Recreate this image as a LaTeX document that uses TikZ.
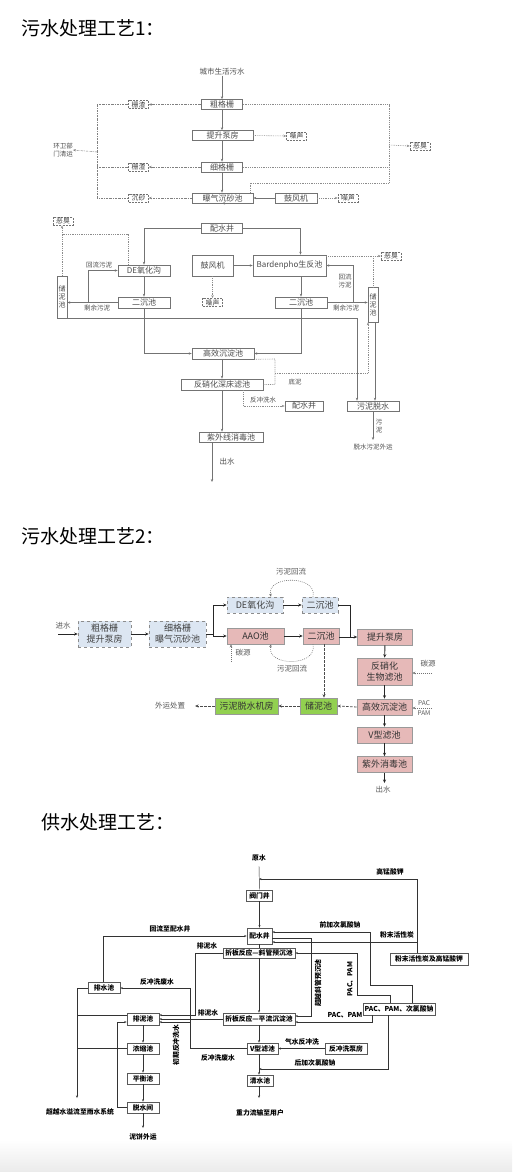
\documentclass[tikz,border=0pt]{standalone}
\usepackage{fontspec}
\newfontfamily\cjk{Noto Sans CJK SC}
\usetikzlibrary{arrows.meta}
\definecolor{lb}{HTML}{DCE6F2}
\definecolor{pk}{HTML}{E6B9B8}
\definecolor{gr}{HTML}{92D050}
\begin{document}
\begin{tikzpicture}[x=1pt,y=-1pt,font=\cjk,
 b1/.style={draw=black!55,line width=0.6pt,fill=white,inner sep=0pt,minimum height=10pt,text=black!70,font=\cjk\fontsize{8}{8.5}\selectfont},
 d1/.style={draw=black!55,dash pattern=on 2pt off 1.2pt,line width=0.5pt,inner sep=1pt,minimum height=8pt,minimum width=20pt,text=black!75,font=\cjk\fontsize{6.8}{7}\selectfont},
 t1/.style={text=black!70,font=\cjk\fontsize{6.5}{7.5}\selectfont,inner sep=0pt,align=center},
 a1/.style={draw=black!55,line width=0.5pt,-{Stealth[length=3pt,width=2.4pt]}},
 l1/.style={draw=black!55,line width=0.5pt},
 o1/.style={draw=black!45,line width=0.6pt,dash pattern=on 0.8pt off 1pt},
 dd1/.style={draw=black!50,line width=0.5pt,dash pattern=on 2pt off 1pt on 0.6pt off 1pt},
 ttl/.style={anchor=west,inner sep=0pt,font=\cjk\fontsize{19}{20}\selectfont},
 bb/.style={draw=black!45,dashed,fill=lb,line width=0.6pt,inner sep=0pt,minimum height=16pt,text=black!75,align=center,font=\cjk\fontsize{9}{11}\selectfont},
 bp/.style={draw=black!40,fill=pk,line width=0.6pt,inner sep=0pt,minimum height=16pt,text=black!80,align=center,font=\cjk\fontsize{9}{11}\selectfont},
 bg/.style={draw=black!40,fill=gr,line width=0.6pt,inner sep=0pt,minimum height=16pt,text=black!80,align=center,font=\cjk\fontsize{9}{11}\selectfont},
 t2/.style={text=black!65,inner sep=0pt,font=\cjk\fontsize{7.5}{8}\selectfont},
 a2/.style={draw=black!85,line width=0.9pt,-{Stealth[length=3.5pt,width=3pt]}},
 l2/.style={draw=black!85,line width=0.9pt},
 da2/.style={draw=black!70,line width=0.8pt,dash pattern=on 2.5pt off 1.5pt,-{Stealth[length=3.5pt,width=3pt]}},
 dt2/.style={draw=black!55,line width=0.6pt,dash pattern=on 0.8pt off 1.2pt,-{Stealth[length=3pt,width=2.6pt]}},
 b3/.style={draw=black!65,line width=0.6pt,fill=white,inner sep=1.2pt,minimum height=11pt,font=\cjk\bfseries\fontsize{6.8}{7}\selectfont},
 t3/.style={inner sep=0pt,font=\cjk\bfseries\fontsize{6.8}{7}\selectfont},
 a3/.style={draw=black!80,line width=0.45pt,-{Stealth[length=2.5pt,width=2pt]}},
 l3/.style={draw=black!80,line width=0.45pt}
]
\useasboundingbox (0,0) rectangle (512,1172);
\fill[top color=white,bottom color=black!8] (0,1140) rectangle (512,1172);

% ================= Section 1 =================
\node[ttl] (title1) at (21,28) {污水处理工艺1：};
\node[t1,font=\cjk\fontsize{7.5}{8}\selectfont] (src) at (222,72) {城市生活污水};
\node[b1,minimum width=41pt] (cgs) at (222,104.5) {粗格栅};
\node[b1,minimum width=61pt] (tsb) at (222.5,135.5) {提升泵房};
\node[b1,minimum width=41pt] (xgs) at (222,167) {细格栅};
\node[b1,minimum width=61pt] (bq) at (222.5,198) {曝气沉砂池};
\node[b1,minimum width=42pt] (gfj) at (296,198) {鼓风机};
\node[d1] (zz1) at (138.5,104.5) {栅渣};
\node[d1] (zz2) at (138.5,167) {栅渣};
\node[d1] (cs) at (138.5,198) {沉砂};
\node[d1] (zs1) at (296.5,136) {噪声};
\node[d1] (zs2) at (348,198) {噪声};
\node[d1] (ec1) at (420,146) {恶臭};
\node[t1] (hw) at (63,150) {环卫部\\门清运};
\coordinate (L1) at (97,104.5);
\coordinate (L2) at (97,167);
\coordinate (L3) at (97,198);
\coordinate (L4) at (97,152);
\coordinate (R1) at (389,104.5);
\coordinate (R2) at (389,183);
\coordinate (R3) at (389,145);
\coordinate (R4) at (250,183);

\draw[a1] (src) -- (cgs);
\draw[a1] (cgs) -- (cgs.south |- tsb.north);
\draw[a1] (cgs.south |- tsb.south) -- (xgs.north);
\draw[a1] (xgs) -- (xgs.south |- bq.north);
\draw[dd1,-{Stealth[length=3pt,width=2.4pt]}] (cgs.west) -- (zz1.east);
\draw[dd1,-{Stealth[length=3pt,width=2.4pt]}] (xgs.west) -- (zz2.east);
\draw[dd1,-{Stealth[length=3pt,width=2.4pt]}] (bq.west) -- (cs.east);
\draw[dd1] (zz1.west) -- (L1) -- (L3) -- (cs.west);
\draw[dd1] (zz2.west) -- (L2);
\draw[dd1,-{Stealth[length=3pt,width=2.4pt]}] (L4) -- (hw.east);
\draw[o1] (cgs.east) -- (R1) -- (R2) -- (R4) -- (R4 |- bq.north);
\draw[o1] (xgs.east) -- (xgs.east -| R1);
\draw[o1,-{Stealth[length=3pt,width=2.4pt]}] (R3) -- (ec1.west);
\draw[o1,-{Stealth[length=3pt,width=2.4pt]}] (tsb.east) -- (zs1.west);
\draw[a1] (gfj) -- (bq);
\draw[o1,-{Stealth[length=3pt,width=2.4pt]}] (gfj) -- (zs2);

\node[b1,minimum width=41pt] (psj) at (222,228.5) {配水井};
\node[b1,minimum width=52pt,minimum height=11pt] (de) at (144,270.5) {DE氧化沟};
\node[b1,minimum width=41pt,minimum height=21pt] (gf2) at (212.5,265.5) {鼓风机};
\node[b1,minimum width=73pt,minimum height=21pt] (bd) at (289.5,265.5) {Bardenpho生反池};
\node[d1] (zs3) at (212.5,302.5) {噪声};
\node[b1,minimum width=52pt,minimum height=11pt] (ecl) at (144,302.5) {二沉池};
\node[b1,minimum width=52pt,minimum height=11pt] (ecr) at (301,302.5) {二沉池};
\node[b1,minimum width=10pt,minimum height=42pt,align=center,font=\cjk\fontsize{7}{8}\selectfont] (cnl) at (62,297) {储\\泥\\池};
\node[b1,minimum width=10pt,minimum height=35pt,align=center,font=\cjk\fontsize{7}{8}\selectfont] (cnr) at (373,304.5) {储\\泥\\池};
\node[d1] (ec2) at (63,221) {恶臭};
\node[d1] (ec3) at (391,256) {恶臭};
\node[t1] (lb1) at (99,265) {回流污泥};
\node[t1] (lb2) at (97,308) {剩余污泥};
\node[t1] (lb3) at (345,281) {回流\\污泥};
\node[t1] (lb4) at (346,308) {剩余污泥};
\coordinate (H1) at (88,302.5);
\coordinate (H2) at (353,302.5);
\coordinate (H3) at (128,234);
\coordinate (H4) at (62,234);
\coordinate (H5) at (373,256);

\draw[a1] (bq) -- (bq.south -| psj.north);
\draw[a1] (psj.west) -| (de.north);
\draw[a1] (psj.east) -| ([xshift=11pt]bd.north);
\draw[a1] (gf2) -- (bd);
\draw[o1,-{Stealth[length=3pt,width=2.4pt]}] (gf2) -- (zs3);
\draw[a1] (de) -- (ecl);
\draw[a1] (bd.south -| ecr.north) -- (ecr.north);
\draw[a1] (ecl.west) -- (ecl.west -| cnl.east);
\draw[a1] (H1) |- (de.west);
\draw[a1] (ecr.east) -- (ecr.east -| cnr.west);
\draw[a1] (H2) |- (bd.east);
\draw[o1] (de.north -| H3) -- (H3) -- (H4);
\draw[o1,-{Stealth[length=3pt,width=2.4pt]}] (cnl.north) -- (cnl.north |- ec2.south);
\draw[o1,-{Stealth[length=3pt,width=2.4pt]}] (bd.north east |- ec3.west) -- (ec3.west);
\draw[o1] (H5) -- (cnr.north);

\node[b1,minimum width=62pt,minimum height=11pt] (gx) at (223,353.5) {高效沉淀池};
\node[b1,minimum width=82pt,minimum height=11pt] (fx) at (222,384.5) {反硝化深床滤池};
\node[b1,minimum width=38pt] (psj2) at (304,406) {配水井};
\node[b1,minimum width=52pt] (wn) at (373,406) {污泥脱水};
\node[b1,minimum width=64pt] (zw) at (231,437) {紫外线消毒池};
\node[t1] (lb5) at (295,382) {底泥};
\node[t1] (lb6) at (263,400) {反冲洗水};
\node[t1] (lb7) at (379,426) {污\\泥};
\node[t1] (lb8) at (373,447) {脱水污泥外运};
\node[t1,font=\cjk\fontsize{7.5}{8}\selectfont] (lb9) at (227,462) {出水};
\coordinate (D1) at (275,359);
\coordinate (D2) at (275,373);
\coordinate (D3) at (368,373);
\coordinate (out1) at (212,482);
\coordinate (wnout) at (373,440);

\draw[a1] (ecl.south) |- (gx.west);
\draw[a1] (ecr.south) |- (gx.east);
\draw[a1] (cnl.south east) -| ([xshift=-16pt]wn.north);
\draw[a1] ([xshift=2pt]cnr.south) -- ([xshift=2pt]wn.north);
\draw[o1] (gx.south east) -- (D1) -- (D2 |- fx.east) -- (fx.east);
\draw[o1,-{Stealth[length=3pt,width=2.4pt]}] (D2) -- (D3) -- (D3 |- cnr.south);
\draw[a1] (gx.south -| fx.north) -- (fx.north);
\draw[o1,-{Stealth[length=3pt,width=2.4pt]}] ([xshift=21pt]fx.south) |- (psj2.west);
\draw[a1] (fx.south) -- (fx.south |- zw.north);
\draw[a1] (zw.south -| out1) -- (out1);
\draw[a1] (wn.south) -- (wnout);

% ================= Section 2 =================
\node[ttl] (title2) at (21,536) {污水处理工艺2：};
\node[bb,minimum width=53pt,minimum height=26pt] (s2a) at (104.5,634) {粗格栅\\提升泵房};
\node[bb,minimum width=57pt,minimum height=26pt] (s2b) at (177.5,634) {细格栅\\曝气沉砂池};
\node[bb,minimum width=56pt] (de2) at (255,605) {DE氧化沟};
\node[bp,minimum width=57pt] (aao) at (255.5,636) {AAO池};
\node[bb,minimum width=36pt] (ec2a) at (320,605) {二沉池};
\node[bp,minimum width=36pt] (ec2b) at (321,636) {二沉池};
\node[bp,minimum width=55pt] (tsb2) at (385,637) {提升泵房};
\node[bp,minimum width=55pt,minimum height=27pt] (fx2) at (384.5,671.5) {反硝化\\生物滤池};
\node[bp,minimum width=55pt] (gx2) at (384.5,707) {高效沉淀池};
\node[bp,minimum width=55pt] (vx) at (384.5,735) {V型滤池};
\node[bp,minimum width=55pt] (zw2) at (384.5,764.5) {紫外消毒池};
\node[bg,minimum width=37pt] (cn2) at (318.5,706) {储泥池};
\node[bg,minimum width=63pt] (wn2) at (246.5,706) {污泥脱水机房};
\node[t2] (jin) at (63,626) {进水};
\node[t2] (wy) at (170,706) {外运处置};
\node[t2] (ty1) at (428,664) {碳源};
\node[t2] (ty2l) at (243,653) {碳源};
\node[t2,font=\cjk\fontsize{6.5}{7}\selectfont] (pac2) at (424,703) {PAC};
\node[t2,font=\cjk\fontsize{6.5}{7}\selectfont] (pam2) at (424,713) {PAM};
\node[t2] (cs2) at (383,790) {出水};
\node[t2] (wh1) at (291,572) {污泥回流};
\node[t2] (wh2) at (292,669) {污泥回流};
\coordinate (in2) at (58,634);
\coordinate (sp) at (213,634);
\coordinate (jn) at (350,637);
\coordinate (tyr) at (432,673);
\coordinate (pp) at (432,708);
\coordinate (out2) at (384.5,783);
\coordinate (ext) at (195,706);
\coordinate (tyb) at (231,662);

\draw[a2] (in2) -- (s2a);
\draw[a2] (s2a) -- (s2b);
\draw[l2] (s2b.east) -- (sp);
\draw[a2] (sp) |- (de2.west);
\draw[a2] (sp) |- (aao.west);
\draw[a2] (de2) -- (ec2a);
\draw[a2] (aao) -- (ec2b);
\draw[l2] (ec2a.east) -| (jn);
\draw[a2] (ec2b.east |- jn) -- (tsb2.west |- jn);
\draw[a2] (tsb2) -- (fx2);
\draw[a2] (fx2) -- (gx2);
\draw[a2] (gx2) -- (vx);
\draw[a2] (vx) -- (zw2);
\draw[a2] (zw2) -- (out2);
\draw[dt2] (tyr) -- (fx2.east |- tyr);
\draw[dt2] (pp) -- (gx2.east |- pp);
\draw[da2] (gx2.west) -- (cn2.east);
\draw[da2] ([xshift=3pt]ec2b.south) -- ([xshift=3pt]ec2b.south |- cn2.north);
\draw[da2] (cn2.west) -- (wn2.east);
\draw[da2] (wn2.west) -- (ext);
\draw[dt2] ([xshift=-7pt]ec2a.north) .. controls (318,575) and (266,575) .. ([xshift=16pt]de2.north);
\draw[dt2] ([xshift=-8pt]ec2b.south) .. controls (318,667) and (266,667) .. ([xshift=15.5pt]aao.south);
\draw[dt2] (tyb) -- (tyb |- aao.south);

% ================= Section 3 =================
\node[ttl] (title3) at (41,822) {供水处理工艺：};
\node[t3] (ys) at (259,858) {原水};
\node[b3,minimum width=26pt] (fmj) at (259.5,895.5) {阀门井};
\node[b3,minimum width=25pt,minimum height=16pt] (pw3) at (259.5,936) {配水井};
\node[b3,minimum width=72pt,minimum height=10pt,inner sep=0.5pt] (xg) at (259,953) {折板反应—斜管预沉池};
\node[b3,minimum width=78pt,minimum height=12pt] (fm) at (429,959) {粉末活性炭及高锰酸钾};
\node[b3,minimum width=72pt,minimum height=12pt] (pl) at (259,1019) {折板反应—平流沉淀池};
\node[b3,minimum width=72pt,minimum height=12pt] (pac) at (399,1009) {PAC、PAM、次氯酸钠};
\node[b3,minimum width=31pt] (vx3) at (262.5,1048.5) {V型滤池};
\node[b3,minimum width=42pt] (fcb) at (346,1048.5) {反冲洗泵房};
\node[b3,minimum width=26pt] (qs) at (260,1080.5) {清水池};
\node[b3,minimum width=32pt] (ps) at (104,988) {排水池};
\node[b3,minimum width=32pt,minimum height=12pt] (pn) at (143,1019) {排泥池};
\node[b3,minimum width=32pt] (ns) at (143,1048.5) {浓缩池};
\node[b3,minimum width=32pt] (ph) at (143,1078.5) {平衡池};
\node[b3,minimum width=32pt] (ts) at (143,1107.5) {脱水间};
\node[t3] (gm) at (390,872) {高锰酸钾};
\node[t3] (hl) at (170,929) {回流至配水井};
\node[t3] (qj) at (340,925) {前加次氯酸钠};
\node[t3] (fmh) at (397,935) {粉末活性炭};
\node[t3] (pns1) at (207,946) {排泥水};
\node[t3] (pns2) at (208,1013) {排泥水};
\node[t3] (fc1) at (157,982) {反冲洗废水};
\node[t3] (fc2) at (218,1058) {反冲洗废水};
\node[t3,rotate=90] (cq) at (176,1045) {初期反冲洗水};
\node[t3,rotate=90] (cy) at (318,983) {超越斜管预沉池};
\node[t3,rotate=90] (pv) at (350,979) {PAC、PAM};
\node[t3] (ph2) at (345,1015) {PAC、PAM};
\node[t3] (qs2) at (302,1042) {气水反冲洗};
\node[t3] (hj2) at (315,1063) {后加次氯酸钠};
\node[t3] (yh) at (260,1113) {重力流输至用户};
\node[t3] (ov2) at (80,1112) {超越水溢流至雨水系统};
\node[t3] (nb2) at (143,1137) {泥饼外运};
\coordinate (ys0) at (259,866);
\coordinate (gmj) at (259,879);
\coordinate (q1) at (412,985);
\coordinate (q2) at (370,985);
\coordinate (r1) at (390,995);
\coordinate (r2) at (357,995);
\coordinate (c1) at (311,938);
\coordinate (p1) at (195,953);
\coordinate (f1) at (190,1048.5);
\coordinate (f3) at (190,1022);
\coordinate (ov) at (77,1098);
\coordinate (rt) at (117,1107.5);
\coordinate (nb) at (143,1128);
\coordinate (hj) at (259,1069);
\coordinate (usr) at (259,1098);

\draw[l3] (ys0) -- (fmj.north);
\draw[a3] ([xshift=-12pt]fm.north) |- (gmj);
\draw[a3] (fmj) -- (pw3);
\draw[a3] ([xshift=-12pt]fm.north) |- ([yshift=-6pt]pw3.east);
\draw[a3] (pac.north -| q1) -- (q1) -- (q2) |- ([yshift=4pt]pw3.east);
\draw[a3] (pac.north -| r1) -- (r1) -- (r2) |- (xg.east);
\draw[a3] (pw3.east |- c1) -- (c1) |- ([yshift=3pt]pl.east);
\draw[l3] (pw3.south -| xg.north) -- (xg.north);
\draw[a3] (xg.south) -- (pl.north);
\draw[a3] ([xshift=-27pt]pac.south) |- ([yshift=-3pt]pl.east);
\draw[a3] ([xshift=-11pt]pac.south) |- (hj);
\draw[a3] (fcb) -- (vx3);
\draw[a3] (pl.south) -- (pl.south |- vx3.north);
\draw[a3] (pl.south |- vx3.south) -- (pl.south |- qs.north);
\draw[a3] (qs.south -| usr) -- (usr);
\draw[a3] ([xshift=-1pt]ps.north) |- (pw3.west);
\draw[a3] (xg.west) -- (p1) |- ([yshift=4pt]pn.east);
\draw[a3] (pl.west) -- (pn.east);
\draw[a3] (vx3.west) -- (f1) |- (ps.east);
\draw[a3] (f3) -- (f3 -| pn.east);
\draw[a3] (ps.west) -| (ov);
\draw[l3] ([yshift=4pt]pn.west) -- ([yshift=4pt]pn.west -| ov);
\draw[l3] (ns.west) -- (ns.west -| ov);
\draw[a3] (ts.west) -- (rt) |- ([yshift=-3pt]pn.west);
\draw[a3] (pn) -- (ns);
\draw[a3] (ns) -- (ph);
\draw[a3] (ph) -- (ts);
\draw[a3] (ts) -- (nb);
\end{tikzpicture}
\end{document}
